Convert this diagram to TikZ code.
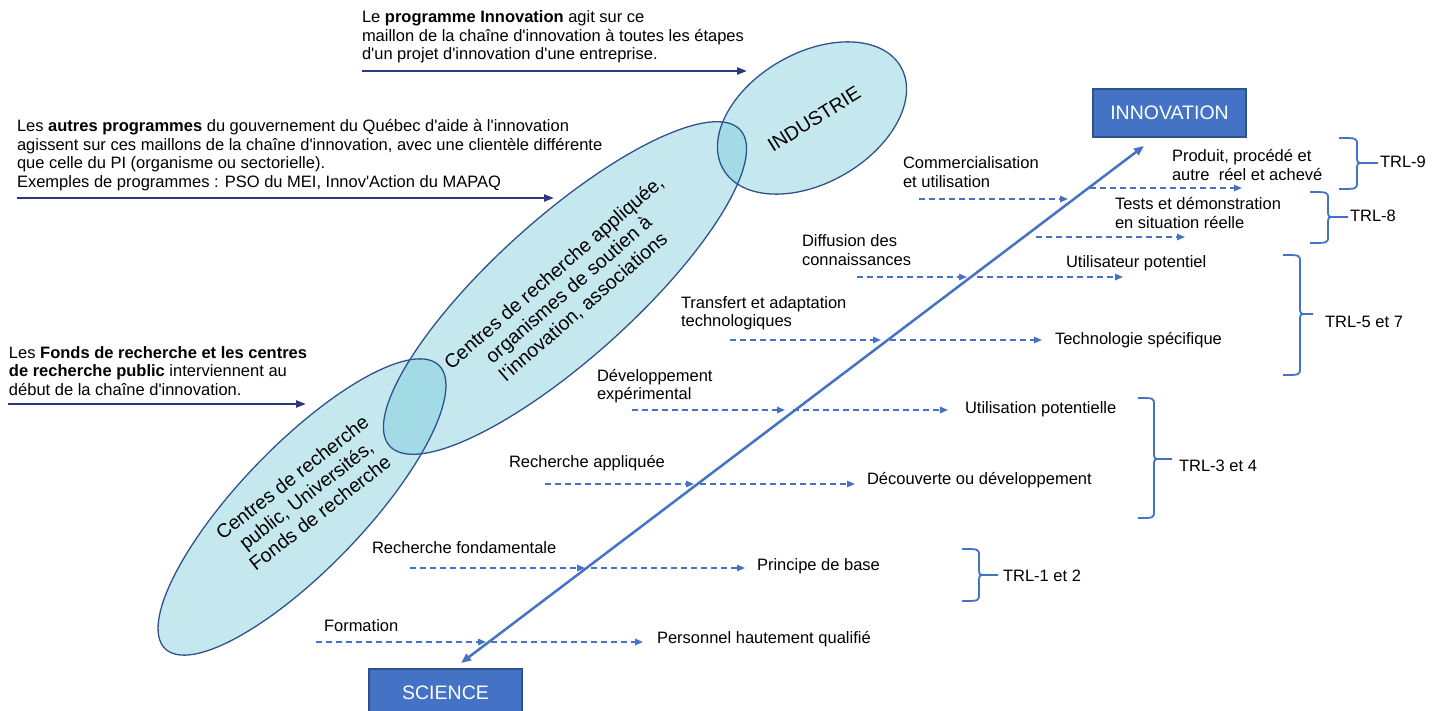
\documentclass[tikz,border=0pt]{standalone}
\usepackage{fontspec}
\setmainfont{Liberation Sans}[Ligatures=TeXOff]
\usetikzlibrary{arrows.meta,shapes.geometric}
\definecolor{mblue}{RGB}{68,114,196}
\definecolor{dblue}{RGB}{47,82,143}
\definecolor{navyc}{RGB}{46,56,128}
\definecolor{ellc}{RGB}{110,197,215}
\newcommand{\trlbrace}[6]{%
  \draw[brc] (#1,#4) .. controls (#2,#4) .. (#2,#4+7) -- (#2,#5-7) .. controls (#2,#5) .. (#2+7,#5) -- (#3,#5);
  \draw[brc] (#1,#6) .. controls (#2,#6) .. (#2,#6-7) -- (#2,#5+7) .. controls (#2,#5) .. (#2+7,#5);
}
\begin{document}
\begin{tikzpicture}[x=1pt,y=-1pt,
  lbl/.style={font=\fontsize{16.5}{18.5}\selectfont, inner sep=0pt, outer sep=0pt, align=left, anchor=west, text=black},
  bigt/.style={font=\fontsize{19.5}{22.5}\selectfont, inner sep=0pt, align=center, text=black},
  ellf/.style={ellipse, fill=ellc, fill opacity=0.4, draw=none, inner sep=0pt},
  elld/.style={ellipse, draw=dblue, line width=1.3pt, inner sep=0pt},
  bluebox/.style={rectangle, fill=mblue, draw=dblue, line width=1.2pt, minimum width=153pt, minimum height=48pt, inner sep=0pt, text=white, font=\fontsize{19.5}{22.5}\selectfont},
  navyarr/.style={draw=navyc, line width=2.2pt, -{Triangle[length=10pt,width=7pt]}},
  diag/.style={draw=mblue, line width=2.5pt, {Triangle[length=10pt,width=8pt]}-{Triangle[length=10pt,width=8pt]}},
  dasharr/.style={draw=mblue, line width=1.5pt, dash pattern=on 6pt off 4pt, -{Triangle[length=8pt,width=6.5pt]}},
  brc/.style={draw=mblue, line width=1.8pt, line join=round},
]
\useasboundingbox (0,0) rectangle (1438,711);
\clip (0,0) rectangle (1438,711);

% ellipses: fills
\node[ellf, minimum width=394pt, minimum height=124pt, rotate=46] (ebot) at (302,507) {};
\node[ellf, minimum width=472pt, minimum height=140pt, rotate=42] (emid) at (565,288) {};
\node[ellf, minimum width=205pt, minimum height=130pt, rotate=30] (eind) at (812,118) {};
% ellipses: borders
\node[elld, minimum width=394pt, minimum height=124pt, rotate=46] at (ebot.center) {};
\node[elld, minimum width=472pt, minimum height=140pt, rotate=42] at (emid.center) {};
\node[elld, minimum width=205pt, minimum height=130pt, rotate=30] at (eind.center) {};

% ellipse texts
\node[bigt, rotate=32] (tind) at (814,119) {INDUSTRIE};
\node[bigt, rotate=41] (tmid) at (569,290) {Centres de recherche appliquée,\\organismes de soutien à\\l'innovation, associations};
\node[bigt, rotate=38] (tbot) at (306,495) {Centres de recherche\\public, Universités,\\Fonds de recherche};

% left explanatory texts
\node[lbl] (tprog) at (362,37) {Le \textbf{programme Innovation} agit sur ce\\maillon de la chaîne d'innovation à toutes les étapes\\d'un projet d'innovation d'une entreprise.};
\node[lbl] (tautres) at (17,155) {Les \textbf{autres programmes} du gouvernement du Québec d'aide à l'innovation\\agissent sur ces maillons de la chaîne d'innovation, avec une clientèle différente\\que celle du PI (organisme ou sectorielle).\\Exemples de programmes : PSO du MEI, Innov'Action du MAPAQ};
\node[lbl] (tfonds) at (9,371) {Les \textbf{Fonds de recherche et les centres}\\\textbf{de recherche public} interviennent au\\début de la chaîne d'innovation.};

% navy arrows
\coordinate (n1a) at (362,71);  \coordinate (n1b) at (747,71);
\coordinate (n2a) at (17,198);  \coordinate (n2b) at (554,198);
\coordinate (n3a) at (8,404);   \coordinate (n3b) at (306,404);
\draw[navyarr] (n1a) -- (n1b);
\draw[navyarr] (n2a) -- (n2b);
\draw[navyarr] (n3a) -- (n3b);

% boxes
\node[bluebox] (innov) at (1169.5,113) {INNOVATION};
\node[bluebox] (sci) at (445.5,693) {SCIENCE};

% main diagonal
\coordinate (dS) at (461,663);
\coordinate (dI) at (1144,146);
\draw[diag] (dS) -- (dI);

% dashed rows: name / y / start / mid tip / restart / end
\foreach \n/\y/\a/\b/\c/\d in {f/642/316/486/491/643, rf/568/410/585/591/745, ra/484/545/694/700/855, de/410/632/785/793/948, ta/340/730/881/890/1042, dc/277/857/967/977/1123}{
  \coordinate (s\n) at (\a,\y);
  \coordinate (m\n) at (\b,\y);
  \coordinate (r\n) at (\c,\y);
  \coordinate (e\n) at (\d,\y);
  \draw[dasharr] (s\n) -- (m\n);
  \draw[dasharr] (r\n) -- (e\n);
}
\coordinate (scu) at (919,199); \coordinate (mcu) at (1068,199);
\coordinate (rcu) at (1090,188); \coordinate (ecu) at (1242,188);
\coordinate (rts) at (1036,237); \coordinate (ets) at (1185,237);
\draw[dasharr] (scu) -- (mcu);
\draw[dasharr] (rcu) -- (ecu);
\draw[dasharr] (rts) -- (ets);

% left stage labels
\node[lbl] (lf)  at (324,626) {Formation};
\node[lbl] (lrf) at (372,548) {Recherche fondamentale};
\node[lbl] (lra) at (509,463) {Recherche appliquée};
\node[lbl] (lde) at (597,386) {Développement\\expérimental};
\node[lbl] (lta) at (681,313) {Transfert et adaptation\\technologiques};
\node[lbl] (ldc) at (802,250) {Diffusion des\\connaissances};
\node[lbl] (lcu) at (903,172) {Commercialisation\\et utilisation};

% right result labels
\node[lbl] (of)  at (657,639) {Personnel hautement qualifié};
\node[lbl] (orf) at (757,566) {Principe de base};
\node[lbl] (ora) at (867,480) {Découverte ou développement};
\node[lbl] (ode) at (965,409) {Utilisation potentielle};
\node[lbl] (ota) at (1055,340) {Technologie spécifique};
\node[lbl] (odc) at (1066,263) {Utilisateur potentiel};
\node[lbl] (ocu) at (1172,165) {Produit, procédé et\\autre\ \ réel et achevé};
\node[lbl] (ots) at (1115,213) {Tests et démonstration\\en situation réelle};

% TRL labels
\node[lbl] (trl9) at (1380,162) {TRL-9};
\node[lbl] (trl8) at (1350,216) {TRL-8};
\node[lbl] (trl57) at (1325,322) {TRL-5 et 7};
\node[lbl] (trl34) at (1179,466) {TRL-3 et 4};
\node[lbl] (trl12) at (1003,576) {TRL-1 et 2};

% braces
\trlbrace{1339}{1357}{1378}{138}{163}{189}
\trlbrace{1310}{1328}{1348}{192}{217}{243}
\trlbrace{1283}{1300}{1313}{255}{314}{375}
\trlbrace{1138}{1154}{1172}{398}{459}{518}
\trlbrace{962}{979}{998}{549}{575}{601}
\end{tikzpicture}
\end{document}
